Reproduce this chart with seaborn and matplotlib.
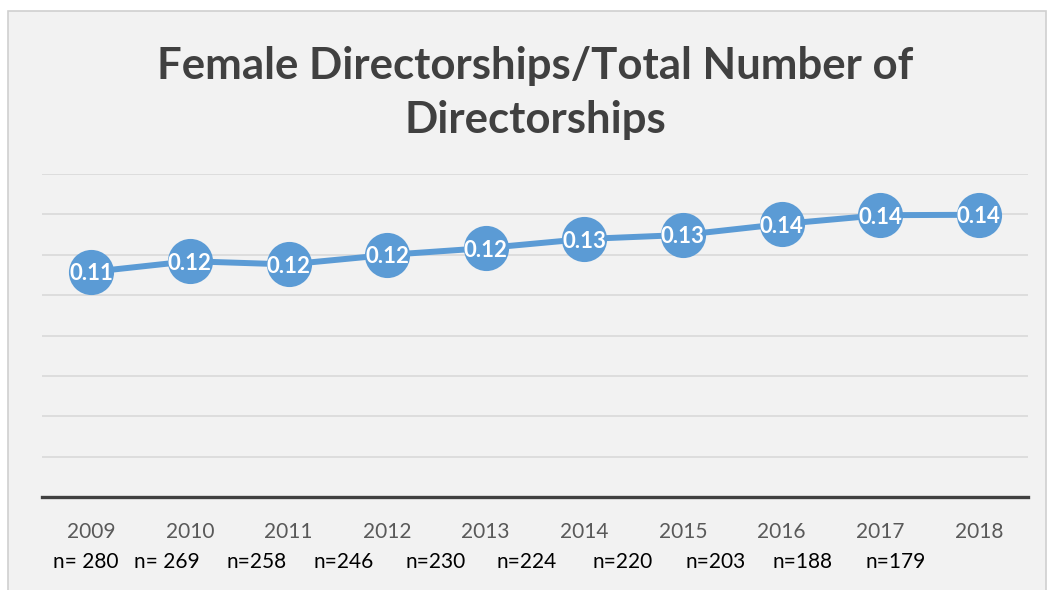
import matplotlib
matplotlib.use("Agg")
import matplotlib.pyplot as plt
import seaborn as sns
import pandas as pd
import numpy as np
from matplotlib.patches import Rectangle

years = ["2009", "2010", "2011", "2012", "2013", "2014", "2015", "2016", "2017", "2018"]
ratio = [0.1115, 0.1168, 0.1152, 0.1199, 0.1233, 0.1278, 0.1298, 0.1352, 0.1396, 0.1398]
sample_sizes = ["n= 280", "n= 269", "n=258", "n=246", "n=230",
                "n=224", "n=220", "n=203", "n=188", "n=179"]

df = pd.DataFrame({"year": years, "ratio": ratio})

W, H = 1048, 590
sns.set_style("white")
plt.rcParams["font.family"] = ["Lato", "DejaVu Sans"]

fig = plt.figure(figsize=(W / 100, H / 100), dpi=100)
fig.patch.set_facecolor("white")
fig.patches.append(Rectangle((8 / W, -0.01), 1 - 10 / W, 1 - 11 / H + 0.01,
                             transform=fig.transFigure, facecolor="#F2F2F2",
                             edgecolor="#D0D0D0", lw=1.2, zorder=-5))

ax = fig.add_axes([42 / W, 1 - 497 / H, 986 / W, 323 / H])
ax.set_facecolor("none")

sns.lineplot(data=df, x="year", y="ratio", ax=ax, color="#5B9BD5", lw=4.3,
             marker="o", markersize=32.5, markeredgewidth=0, sort=False)

for i, v in enumerate(ratio):
    ax.text(i, v, f"{v:.2f}", ha="center", va="center_baseline", color="white",
            fontweight="bold", fontsize=16)

ax.set_xlim(-0.5, len(years) - 0.5)
ax.set_ylim(0, 0.16)
ax.set_yticks(np.arange(0.02, 0.161, 0.02))
ax.set_yticklabels([])
ax.grid(axis="y", color="#D9D9D9", lw=1.2)
ax.set_axisbelow(True)
for side in ["top", "left", "right"]:
    ax.spines[side].set_visible(False)
ax.spines["bottom"].set_color("#404040")
ax.spines["bottom"].set_linewidth(2.4)
ax.tick_params(axis="y", length=0)
ax.tick_params(axis="x", length=0, labelsize=15, labelcolor="#595959", pad=18)
ax.set_xlabel("")
ax.set_ylabel("")

n_x = [86, 167, 257, 344, 436, 527, 623, 716, 803, 896]
for x, s in zip(n_x, sample_sizes):
    fig.text(x / W, 1 - 562 / H, s, ha="center", va="center", fontsize=15, color="black")

fig.text(535 / W, 1 - 93 / H, "Female Directorships/Total Number of\nDirectorships",
         ha="center", va="center", fontsize=31.5, fontweight="bold", color="#404040",
         linespacing=1.42)

fig.savefig("out.png", dpi=100)
